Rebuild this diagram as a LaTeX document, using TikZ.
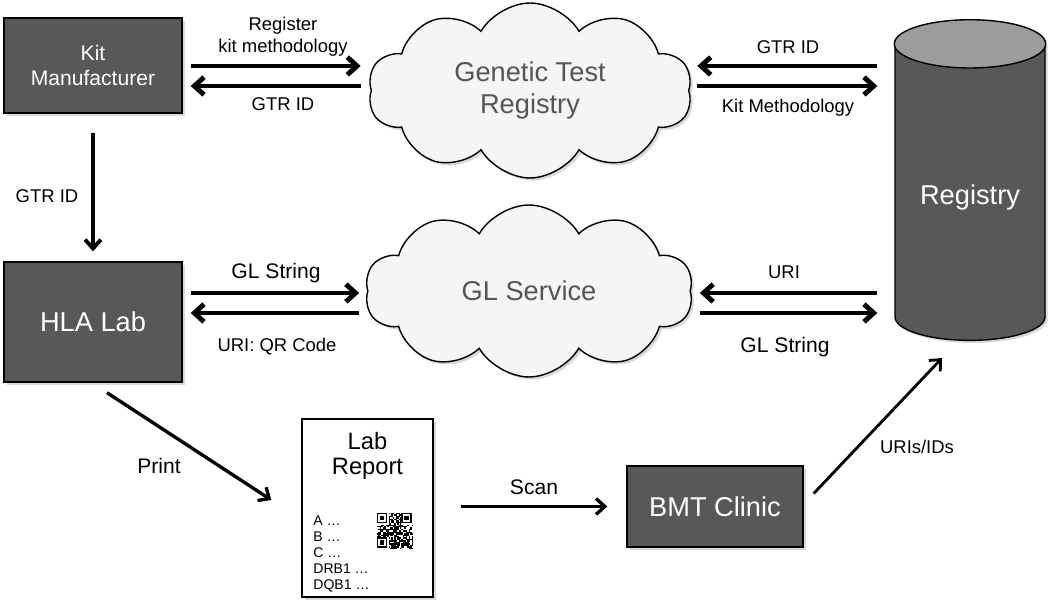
\documentclass[tikz,border=0pt]{standalone}
\usepackage{fontspec}
\setmainfont{Liberation Sans}
\usetikzlibrary{arrows.meta, positioning, calc, shapes.symbols, shapes.geometric, shadows}

\definecolor{boxgray}{HTML}{585858}
\definecolor{topgray}{HTML}{9C9C9C}
\definecolor{cloudfill}{HTML}{F4F5F7}
\definecolor{cloudtext}{HTML}{555555}

\tikzset{
    softshadow/.style={drop shadow={opacity=0.3, shadow xshift=1.5pt, shadow yshift=-1.5pt}},
    darkbox/.style={draw=black, thick, fill=boxgray, text=white, align=center, inner sep=2pt, softshadow},
    service/.style={cloud, cloud puffs=10, cloud puff arc=120, cloud ignores aspect, draw=black, thick,
        fill=cloudfill, text=cloudtext, align=center, font=\fontsize{15.5}{18}\selectfont, softshadow},
    store/.style={cylinder, shape border rotate=90, aspect=0.42, draw=black, thick, fill=boxgray,
        text=white, font=\fontsize{15.5}{18}\selectfont, softshadow},
    flow/.style={line width=2.8pt, -{Straight Barb[length=5.5pt, width=10pt]}},
    thinflow/.style={line width=1.9pt, -{Straight Barb[length=5pt, width=9pt]}},
    lbl/.style={font=\fontsize{10.5}{12.5}\selectfont, align=center},
    biglbl/.style={font=\fontsize{12}{14}\selectfont, align=center}
}

\begin{document}
\begin{tikzpicture}[x=0.02cm, y=-0.02cm]
    \useasboundingbox (0,0) rectangle (1050,604);

    % boxes, clouds and the registry
    \node[darkbox, minimum width=3.56cm, minimum height=1.9cm, font=\fontsize{12}{14}\selectfont] (kit) at (93,65.5) {Kit\\Manufacturer};
    \node[darkbox, minimum width=3.56cm, minimum height=2.4cm, font=\fontsize{15.5}{18}\selectfont] (hla) at (93,322) {HLA Lab};
    \node[darkbox, minimum width=3.52cm, minimum height=1.62cm, font=\fontsize{15.5}{18}\selectfont] (bmt) at (715,506.5) {BMT Clinic};

    \node[service, minimum width=6.48cm, minimum height=3.5cm] (gtr) at (530,90.5) {Genetic Test\\Registry};
    \node[service, minimum width=6.56cm, minimum height=3.44cm] (gls) at (529,291) {GL Service};

    \node[store, minimum width=3cm, minimum height=6.4cm] (reg) at (970,197) {Registry};
    \draw[thick, fill=topgray]
        let \p1=(reg.before top), \p2=(reg.after top), \p3=(reg.top) in
        ($(reg.before top)!0.5!(reg.after top)$) ellipse [x radius={0.5*abs(\x2-\x1)}, y radius={abs(\y3-\y1)}];

    % the printed report
    \node[draw=black, thick, fill=white, minimum width=2.62cm, minimum height=3.56cm, softshadow] (report) at (367.5,508) {};
    \node[font=\fontsize{13.5}{14.5}\selectfont, align=center] (rtitle) at (367.5,456) {Lab\\Report};
    \node[font=\fontsize{8}{9.2}\selectfont, align=left, anchor=west, inner sep=0pt] (rlist) at (313,554) {A …\\B …\\C …\\DRB1 …\\DQB1 …};

    % qr code
    \pgfmathsetseed{17}
    \foreach \i in {0,...,24} {
        \foreach \j in {0,...,24} {
            \pgfmathrandominteger{\qbit}{0}{9}
            \ifnum\qbit>3
                \fill (377+\i*1.44,513+\j*1.44) rectangle ++(1.44,1.44);
            \fi
        }
    }
    \foreach \fx/\fy in {0/0, 17/0, 0/17} {
        \fill[white] (377+\fx*1.44,513+\fy*1.44) rectangle ++(11.5,11.5);
        \fill (377+\fx*1.44,513+\fy*1.44) rectangle ++(10.08,10.08);
        \fill[white] (377+\fx*1.44+1.44,513+\fy*1.44+1.44) rectangle ++(7.2,7.2);
        \fill (377+\fx*1.44+2.88,513+\fy*1.44+2.88) rectangle ++(4.32,4.32);
    }

    % rows of the paired arrows
    \coordinate (rowA) at (0,66);
    \coordinate (rowB) at (0,86);
    \coordinate (rowC) at (0,293);
    \coordinate (rowD) at (0,313);

    \draw[flow, shorten <=0.16cm, shorten >=0.2cm] (kit.east |- rowA) -- (gtr.west |- rowA);
    \draw[flow, shorten <=0.2cm, shorten >=0.16cm] (gtr.west |- rowB) -- (kit.east |- rowB);
    \draw[flow, shorten <=0.34cm, shorten >=0.16cm] (reg.west |- rowA) -- (gtr.east |- rowA);
    \draw[flow, shorten <=0.16cm, shorten >=0.34cm] (gtr.east |- rowB) -- (reg.west |- rowB);

    \draw[flow, shorten <=0.16cm, shorten >=0.16cm] (hla.east |- rowC) -- (gls.west |- rowC);
    \draw[flow, shorten <=0.16cm, shorten >=0.16cm] (gls.west |- rowD) -- (hla.east |- rowD);
    \draw[flow, shorten <=0.34cm, shorten >=0.18cm] (reg.west |- rowC) -- (gls.east |- rowC);
    \draw[flow, shorten <=0.18cm, shorten >=0.34cm] (gls.east |- rowD) -- (reg.west |- rowD);

    \draw[thinflow, line width=2.2pt, shorten <=0.38cm, shorten >=0.2cm] (kit.south) -- (hla.north);
    \draw[thinflow] ([xshift=0.28cm, yshift=-0.2cm]hla.south) -- ([xshift=-0.6cm, yshift=0.16cm]report.west);
    \draw[thinflow, shorten <=0.54cm, shorten >=0.38cm] (report.east |- bmt.west) -- (bmt.west);
    \draw[thinflow, line width=1.6pt] ([xshift=0.2cm, yshift=0.26cm]bmt.east) -- ([xshift=-0.56cm, yshift=-0.34cm]reg.south);

    % labels
    \node[lbl] (lreg) at (283,37) {Register\\kit methodology};
    \node[lbl] (lgtr1) at (283,104) {GTR ID};
    \node[lbl] (lgtr2) at (788,47) {GTR ID};
    \node[lbl] (lkitm) at (788,108) {Kit Methodology};
    \node[biglbl] (lgl1) at (276,273) {GL String};
    \node[lbl] (lqr) at (277,347) {URI: QR Code};
    \node[lbl] (luri) at (784,272) {URI};
    \node[biglbl] (lgl2) at (785,347) {GL String};
    \node[lbl] (lgtr3) at (47,196) {GTR ID};
    \node[biglbl] (lprint) at (159,466) {Print};
    \node[biglbl] (lscan) at (534,487) {Scan};
    \node[lbl] (luris) at (917,447) {URIs/IDs};
\end{tikzpicture}
\end{document}
